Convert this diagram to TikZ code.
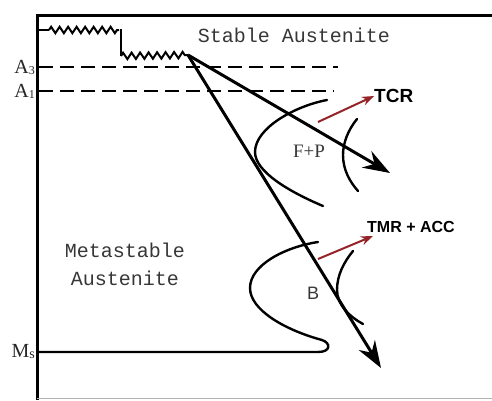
\documentclass[tikz,border=0pt]{standalone}
\usepackage{fontspec}
\setmainfont{Liberation Serif}
\setsansfont{Liberation Sans}
\setmonofont{Liberation Mono}
\usetikzlibrary{arrows.meta,decorations.pathmorphing}
\definecolor{darkred}{RGB}{150,35,40}
\definecolor{txtgray}{RGB}{55,55,55}
\tikzset{
  axis/.style={line width=3pt,black},
  zz/.style={line width=2pt,decorate,decoration={zigzag,segment length=8.5pt,amplitude=3.2pt}},
  dashline/.style={line width=2.4pt,dash pattern=on 14pt off 7pt},
  cool/.style={line width=3pt,-{Stealth[length=27pt,width=19pt,inset=9pt]}},
  ccurve/.style={line width=2.4pt,line cap=round},
  redarrow/.style={line width=2pt,darkred,-{Stealth[length=12pt,width=9pt]}},
  mono/.style={font=\ttfamily\fontsize{20}{28}\selectfont,text=txtgray},
  sidelbl/.style={font=\fontsize{20}{22}\selectfont,text=black!85,anchor=east,inner sep=1pt},
  boldlbl/.style={text=black,inner sep=0pt},
}
\begin{document}
\begin{tikzpicture}[x=1pt,y=-1pt]
\useasboundingbox (0,0) rectangle (492,400);
% frame
\coordinate (tl) at (37,15);
\coordinate (tr) at (492,15);
\coordinate (bl) at (37,400);
\coordinate (br) at (492,398);
\draw[axis] (tr) -- (tl) -- (bl);
\draw[gray!60,line width=1pt] (37,398) -- (br);
% zigzags
\coordinate (z0) at (37,30);
\coordinate (z1) at (49,30);
\coordinate (z2) at (119,30);
\coordinate (z3) at (121,29);
\coordinate (z4) at (121,56);
\coordinate (s) at (188,55);
\draw[line width=2pt] (z0) -- (z1);
\draw[zz] (z1) -- (z2);
\draw[line width=2pt] (z3) -- (z4);
\draw[zz] (z4) -- (s);
% dashed lines
\coordinate (a3s) at (39,67);
\coordinate (a3e) at (338,67);
\coordinate (a1s) at (39,91);
\coordinate (a1e) at (334,91);
\draw[dashline] (a3s) -- (a3e);
\draw[dashline] (a1s) -- (a1e);
% side labels
\node[sidelbl] (A3) at (36,67) {A\raisebox{-1pt}{\fontsize{12}{12}\selectfont 3}};
\node[sidelbl] (A1) at (36,91) {A\raisebox{-1pt}{\fontsize{12}{12}\selectfont 1}};
\node[sidelbl] (Ms) at (36,352) {M\raisebox{-1pt}{\fontsize{14}{14}\selectfont s}};
% region labels
\node[mono] (stable) at (294,35) {Stable Austenite};
\node[mono,align=center] (meta) at (125,264) {Metastable\\Austenite};
% F+P curves
\draw[ccurve] (327,100) .. controls (295,106) and (255,128) .. (255,152)
  .. controls (255,172) and (290,192) .. (323,206);
\draw[ccurve] (357,119) .. controls (348,130) and (343,143) .. (343,155)
  .. controls (343,170) and (350,182) .. (358,191);
% B curves
\coordinate (msend) at (37,352);
\draw[ccurve] (318,242) .. controls (285,247) and (250,265) .. (250,288)
  .. controls (250,310) and (285,330) .. (322,340)
  .. controls (331,343) and (331,352) .. (318,352) -- (msend);
\draw[ccurve] (353,251) .. controls (344,262) and (337,275) .. (337,290)
  .. controls (337,305) and (350,317) .. (363,324);
% cooling arrows
\coordinate (e1) at (390,173);
\coordinate (e2) at (381,368);
\draw[cool] (s) -- (e1);
\draw[cool] (s) -- (e2);
% phase labels
\node[font=\fontsize{19}{20}\selectfont,text=txtgray] (FP) at (309,151) {F+P};
\node[font=\sffamily\fontsize{18}{20}\selectfont,text=txtgray] (B) at (313,293) {B};
% red arrows and labels
\node[boldlbl,font=\sffamily\bfseries\fontsize{19}{20}\selectfont,anchor=west] (TCR) at (374,96) {TCR};
\node[boldlbl,font=\sffamily\bfseries\fontsize{16}{18}\selectfont,anchor=west] (TMR) at (367,227) {TMR + ACC};
\coordinate (r1s) at (318,122);
\coordinate (r2s) at (318,259);
\draw[redarrow] (r1s) -- (TCR.west);
\draw[redarrow] (r2s) -- ([xshift=6pt,yshift=-9pt]TMR.west);
\end{tikzpicture}
\end{document}
